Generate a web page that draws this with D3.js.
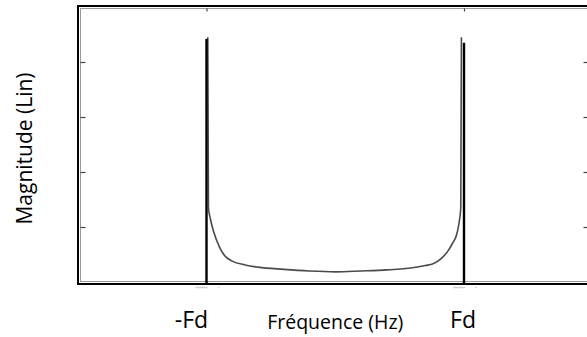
<!DOCTYPE html>
<html>
<head>
<meta charset="utf-8">
<script src="https://cdn.jsdelivr.net/npm/d3@7"></script>
<style>
  html, body { margin: 0; padding: 0; background: #fff; }
  svg { display: block; }
  text { font-family: "Open Sans", sans-serif; fill: #000; }
</style>
</head>
<body>
<svg id="chart" width="587" height="337"></svg>
<script>
// Doppler (Jakes) spectrum: frequency in units of Fd, magnitude on a linear scale
const freq = [-0.99, -0.985, -0.97, -0.94, -0.90, -0.86, -0.80, -0.70, -0.60, -0.40, -0.20, 0,
              0.20, 0.40, 0.60, 0.70, 0.76, 0.82, 0.88, 0.91, 0.94, 0.96, 0.975, 0.98];
const magnitude = [4.45, 1.35, 1.15, 0.88, 0.64, 0.48, 0.38, 0.31, 0.27, 0.23, 0.20, 0.185,
                   0.20, 0.22, 0.26, 0.30, 0.33, 0.42, 0.58, 0.70, 0.84, 1.05, 1.35, 4.45];
// Doppler limits marked on the frequency axis
const dopplerLimits = [-1, 1];
const dopplerLabels = ["-Fd", "Fd"];
const peakHeight = [4.42, 4.35];
const yTicks = [1, 2, 3, 4];
const xLabel = "Fréquence (Hz)";
const yLabel = "Magnitude (Lin)";

const svg = d3.select("#chart");
const x = d3.scaleLinear().domain([-2, 2]).range([77.75, 592.75]);
const y = d3.scaleLinear().domain([0, 5]).range([282, 7]);

// plot frame: heavy outer border with a thin grey inner rule
svg.append("rect")
  .attr("x", 78).attr("y", 6).attr("width", 520).attr("height", 278)
  .attr("fill", "none").attr("stroke", "#000").attr("stroke-width", 2);
svg.append("rect")
  .attr("x", 80.5).attr("y", 8.5).attr("width", 515).attr("height", 273)
  .attr("fill", "none").attr("stroke", "#9a9a9a").attr("stroke-width", 1);

// inward ticks on left, right and top edges
const tickStyle = g => {
  g.select(".domain").remove();
  g.selectAll(".tick line").attr("stroke", "#444").attr("stroke-width", 1.2);
  g.selectAll(".tick text").remove();
};
svg.append("g").attr("transform", "translate(80.5,0)")
  .call(d3.axisLeft(y).tickValues(yTicks).tickSize(-5).tickFormat(""))
  .call(tickStyle);
svg.append("g").attr("transform", "translate(589.5,0)")
  .call(d3.axisRight(y).tickValues(yTicks).tickSize(-6).tickFormat(""))
  .call(tickStyle);
svg.append("g").attr("transform", "translate(0,8.5)")
  .call(d3.axisTop(x).tickValues(dopplerLimits).tickSize(-3).tickFormat(""))
  .call(tickStyle);

// faint remnants under the bottom axis at the Doppler limits
dopplerLimits.forEach(f => {
  svg.append("line")
    .attr("x1", x(f) - 11).attr("x2", x(f) + 1)
    .attr("y1", 287.5).attr("y2", 287.5)
    .attr("stroke", "#cfcfcf").attr("stroke-width", 1.5);
  svg.append("line")
    .attr("x1", x(f) + 11).attr("x2", x(f) + 13)
    .attr("y1", 287.5).attr("y2", 287.5)
    .attr("stroke", "#dadada").attr("stroke-width", 1.5);
});

// spectrum curve
const line = d3.line()
  .x((d, i) => x(freq[i]))
  .y(d => y(d))
  .curve(d3.curveMonotoneX);
svg.append("path")
  .datum(magnitude)
  .attr("d", line)
  .attr("fill", "none")
  .attr("stroke", "#4a4a4a")
  .attr("stroke-width", 1.6)
  .attr("stroke-linejoin", "round");

// vertical lines at +/- Fd
svg.selectAll("line.peak")
  .data(dopplerLimits)
  .enter().append("line")
  .attr("class", "peak")
  .attr("x1", d => x(d)).attr("x2", d => x(d))
  .attr("y1", (d, i) => y(peakHeight[i])).attr("y2", y(0) + 1)
  .attr("stroke", "#000").attr("stroke-width", 2.4);

// labels
svg.selectAll("text.fd")
  .data(dopplerLimits)
  .enter().append("text")
  .attr("class", "fd")
  .attr("x", (d, i) => x(d) + (i === 0 ? -15 : -1))
  .attr("y", 328)
  .attr("text-anchor", "middle")
  .attr("font-size", 23)
  .text((d, i) => dopplerLabels[i]);

svg.append("text")
  .attr("x", x(0)).attr("y", 329)
  .attr("text-anchor", "middle")
  .attr("font-size", 19.5)
  .text(xLabel);

svg.append("text")
  .attr("transform", "translate(32,148.5) rotate(-90)")
  .attr("text-anchor", "middle")
  .attr("font-size", 21)
  .text(yLabel);
</script>
</body>
</html>
